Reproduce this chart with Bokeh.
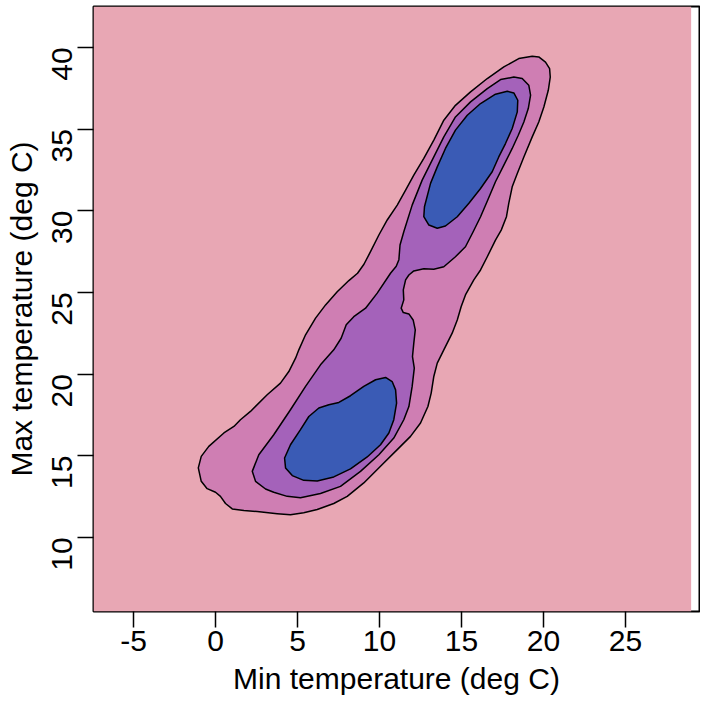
# filled density contours of daily min / max temperature
import math

from bokeh.embed import file_html
from bokeh.models import FixedTicker, Range1d
from bokeh.plotting import figure
from bokeh.resources import INLINE

x_ticks = [-5, 0, 5, 10, 15, 20, 25]
x_tick_labels = ["-5", "0", "5", "10", "15", "20", "25"]
y_ticks = [10, 15, 20, 25, 30, 35, 40]
y_tick_labels = ["10", "15", "20", "25", "30", "35", "40"]

# extent of the density grid
grid_x = [-7.44, 29.0, 29.0, -7.44]
grid_y = [5.46, 5.46, 42.5, 42.5]

# lowest level
outer_x = [19.71, 20.12, 20.37, 20.41, 20.29, 20.02, 19.71, 19.31, 18.80, 18.40, 18.09, 17.88,
           17.74, 17.42, 17.07, 16.57, 16.16, 15.75, 15.24, 14.98, 14.74, 14.43, 13.92, 13.52,
           13.31, 13.15, 12.95, 12.50, 11.89, 11.08, 10.06, 9.04, 8.03, 7.21, 6.20, 5.38,
           4.57, 3.76, 2.54, 1.73, 1.02, 0.61, 0.30, 0.0, -0.51, -0.87, -1.05, -0.87,
           -0.41, 0.51, 1.12, 1.52, 2.13, 3.15, 3.96, 4.47, 4.88, 5.08, 5.49, 6.10, 6.71, 7.42,
           8.13, 8.66, 9.05, 9.45, 9.96, 10.47, 11.08, 11.59, 12.09, 12.70, 13.31, 13.92, 14.63,
           15.55, 16.57, 17.58, 18.49, 19.31]
outer_y = [39.41, 39.10, 38.70, 38.18, 37.37, 36.35, 35.43, 34.52, 33.29, 32.28, 31.46, 30.45,
           29.63, 28.81, 28.20, 27.18, 26.37, 25.76, 24.84, 24.13, 23.31, 22.50, 21.48, 20.67,
           19.85, 18.83, 18.01, 17.00, 16.18, 15.37, 14.35, 13.33, 12.51, 12.07, 11.70, 11.50,
           11.38, 11.45, 11.58, 11.64, 11.74, 12.07, 12.51, 12.76, 12.98, 13.43, 14.25, 14.96,
           15.57, 16.39, 16.79, 17.20, 17.71, 18.73, 19.44, 20.15, 20.97, 21.48, 22.40, 23.42, 24.23, 25.04,
           25.72, 26.17, 26.72, 27.49, 28.51, 29.43, 30.34, 31.26, 32.18, 33.20, 34.32, 35.54, 36.45,
           37.27, 38.09, 38.80, 39.31, 39.45]

# middle level
middle_x = [18.19, 18.70, 19.10, 19.21, 19.07, 18.80, 18.46, 18.09, 17.58, 17.07, 16.60, 16.16,
            15.71, 15.24, 14.63, 13.92, 13.31, 12.70, 12.09, 11.79, 11.59, 11.45, 11.48, 11.32,
            11.45, 11.79, 12.05, 12.18, 12.09, 12.01, 12.12, 11.99, 11.79, 11.48, 10.87, 9.96,
            8.84, 7.62, 6.40, 5.18, 4.37, 3.55, 3.05, 2.44, 2.24, 2.64, 3.55, 4.57,
            5.49, 6.40, 7.21, 7.66, 7.97, 8.43, 9.15, 9.86, 10.67, 11.02, 11.18, 11.25, 11.48,
            11.99, 12.60, 13.21, 13.92, 14.63, 15.55, 16.57, 17.38]
middle_y = [38.18, 38.09, 37.68, 37.07, 36.25, 35.43, 34.62, 33.81, 32.79, 31.77, 30.65, 29.63,
            28.71, 27.79, 27.18, 26.57, 26.41, 26.45, 26.31, 26.06, 25.76, 25.15, 24.54, 24.03,
            23.76, 23.68, 23.31, 22.70, 21.89, 21.07, 20.36, 19.24, 18.01, 17.20, 16.08, 15.06,
            14.04, 13.12, 12.68, 12.43, 12.51, 12.76, 12.96, 13.43, 14.04, 15.06, 16.28, 17.81,
            19.24, 20.56, 21.48, 22.19, 23.01, 23.51, 24.03, 24.95, 26.17, 26.60, 27.00, 27.90, 28.71,
            30.34, 31.87, 33.09, 34.52, 35.74, 36.66, 37.47, 38.03]

# highest level, two separate peaks
warm_peak_x = [17.79, 18.19, 18.43, 18.40, 18.09, 17.68, 17.27, 16.87, 16.16, 15.45, 14.74, 14.02,
               13.52, 13.01, 12.70, 12.74, 13.11, 13.52, 14.02, 14.63, 15.35, 16.16, 17.07]
warm_peak_y = [37.31, 37.21, 36.76, 36.05, 35.03, 34.11, 33.29, 32.38, 31.36, 30.45, 29.63, 29.06,
               28.92, 29.12, 29.63, 30.24, 31.67, 32.68, 33.81, 34.93, 35.84, 36.56, 37.13]
cool_peak_x = [10.37, 10.77, 10.98, 11.04, 10.87, 10.57, 10.06, 9.25, 8.23, 7.21, 6.20, 5.38,
               4.68, 4.27, 4.21, 4.57, 5.18, 5.69, 6.30, 6.91, 7.52, 8.23, 9.04, 9.76]
cool_peak_y = [19.79, 19.54, 19.03, 18.22, 17.20, 16.39, 15.67, 14.92, 14.19, 13.70, 13.45, 13.49,
               13.78, 14.25, 14.86, 15.67, 16.59, 17.40, 17.92, 18.12, 18.26, 18.67, 19.24, 19.65]

p = figure(
    width=700,
    height=697,
    x_range=Range1d(-7.44, 29.51),
    y_range=Range1d(5.46, 42.5),
    output_backend="svg",
    toolbar_location=None,
    x_axis_label="Min temperature (deg C)",
    y_axis_label="Max temperature (deg C)",
    min_border_left=93,
    min_border_right=1,
    min_border_top=6,
    min_border_bottom=85,
)

p.patch(grid_x, grid_y, fill_color="#E8A7B4", line_color=None)
p.patch(outer_x, outer_y, fill_color="#CF7EB3", line_color="black", line_width=1.5, line_join="round")
p.patch(middle_x, middle_y, fill_color="#A462BA", line_color="black", line_width=1.5, line_join="round")
p.patch(warm_peak_x, warm_peak_y, fill_color="#3A5BB5", line_color="black", line_width=1.5, line_join="round")
p.patch(cool_peak_x, cool_peak_y, fill_color="#3A5BB5", line_color="black", line_width=1.5, line_join="round")

p.grid.visible = False
p.outline_line_color = "black"
p.outline_line_width = 2

p.xaxis.ticker = FixedTicker(ticks=x_ticks)
p.yaxis.ticker = FixedTicker(ticks=y_ticks)
p.xaxis.major_label_overrides = dict(zip(x_ticks, x_tick_labels))
p.yaxis.major_label_overrides = dict(zip(y_ticks, y_tick_labels))
p.yaxis.major_label_orientation = math.pi / 2

for ax in [p.xaxis, p.yaxis]:
    ax.axis_line_color = None
    ax.major_tick_out = 16
    ax.major_tick_in = 0
    ax.major_tick_line_width = 1.5
    ax.major_tick_line_color = "black"
    ax.minor_tick_line_color = None
    ax.major_label_text_font = "Liberation Sans"
    ax.major_label_text_font_size = "30px"
    ax.major_label_text_color = "black"
    ax.axis_label_text_font = "Liberation Sans"
    ax.axis_label_text_font_size = "30px"
    ax.axis_label_text_font_style = "normal"
    ax.axis_label_text_color = "black"

p.xaxis.major_label_standoff = 3
p.xaxis.axis_label_standoff = 8
p.yaxis.major_label_standoff = 15
p.yaxis.axis_label_standoff = 2

open("out.html", "w").write(file_html(p, INLINE))
